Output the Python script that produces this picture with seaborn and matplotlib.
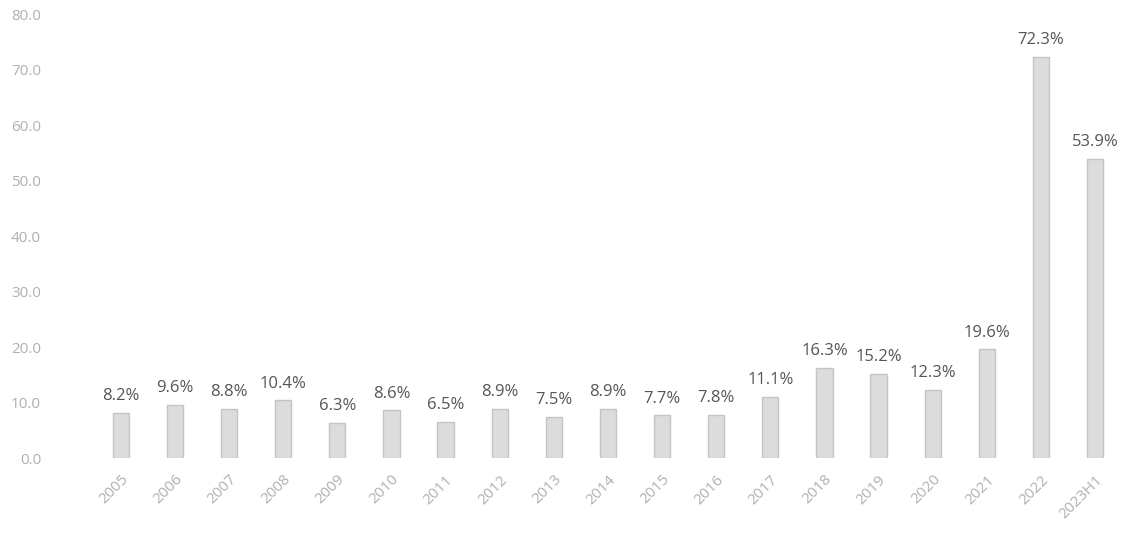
import matplotlib
matplotlib.use('Agg')
import matplotlib.pyplot as plt
import seaborn as sns
import pandas as pd

years = ['2005', '2006', '2007', '2008', '2009', '2010', '2011', '2012', '2013',
         '2014', '2015', '2016', '2017', '2018', '2019', '2020', '2021', '2022', '2023H1']
values = [8.2, 9.6, 8.8, 10.4, 6.3, 8.6, 6.5, 8.9, 7.5,
          8.9, 7.7, 7.8, 11.1, 16.3, 15.2, 12.3, 19.6, 72.3, 53.9]
yticks = [0, 10, 20, 30, 40, 50, 60, 70, 80]

sns.set_style('white')
plt.rcParams['font.family'] = ['Open Sans', 'DejaVu Sans']

df = pd.DataFrame({'year': years, 'value': values})

fig = plt.figure(figsize=(11.3, 5.41), dpi=100)
ax = fig.add_axes([0.083, 0.153, 0.91, 0.821])
sns.barplot(data=df, x='year', y='value', color='#dcdcdc', width=0.3,
            edgecolor='#c4c4c4', linewidth=1, saturation=1, ax=ax)

for i, v in enumerate(values):
    ax.text(i, v + 1.6, f'{v:.1f}%', ha='center', va='bottom',
            fontsize=12, color='#555555')

ax.set_ylim(0, 80)
ax.set_xlim(-0.5, len(years) - 0.5)
ax.set_yticks(yticks)
ax.set_yticklabels([f'{t:.1f}' for t in yticks], color='#b0b0b0', fontsize=11)
ax.set_xticks(range(len(years)))
ax.set_xticklabels(years, rotation=45, ha='right', rotation_mode='anchor',
                   color='#b0b0b0', fontsize=11)
ax.tick_params(axis='y', pad=38, length=0)
ax.tick_params(axis='x', length=0, pad=10)
ax.set_xlabel('')
ax.set_ylabel('')
sns.despine(ax=ax, left=True, bottom=True)

fig.savefig('out.png', dpi=100)
